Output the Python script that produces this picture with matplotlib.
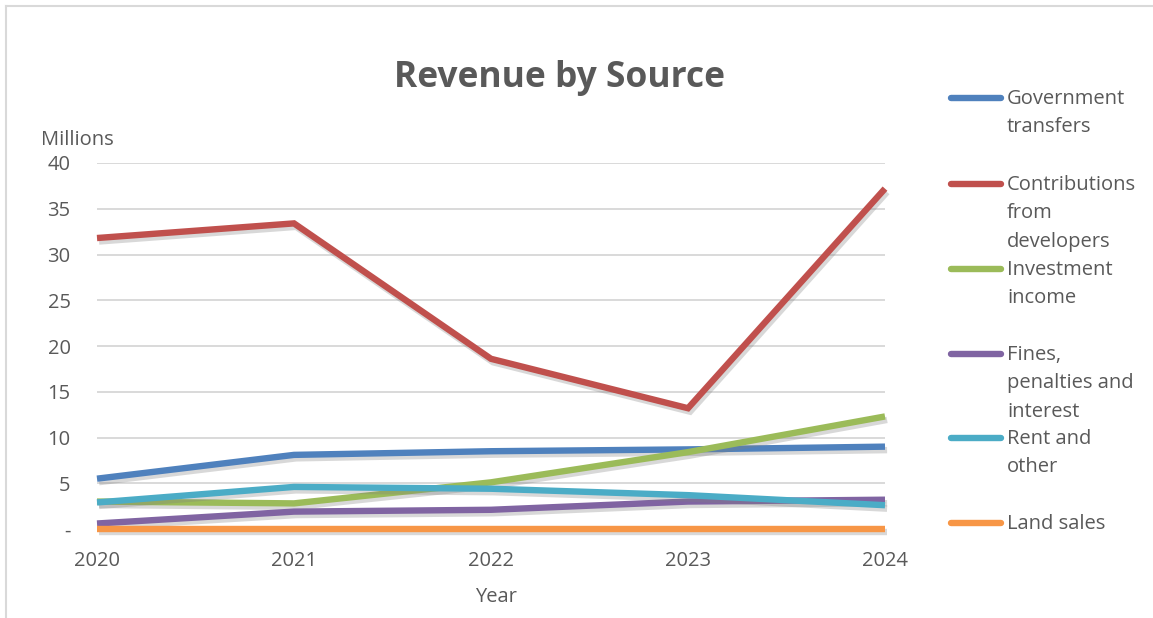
import matplotlib
matplotlib.use("Agg")
import matplotlib.pyplot as plt
import matplotlib.patheffects as pe
from matplotlib.lines import Line2D

# Revenue by source, in millions
years = [2020, 2021, 2022, 2023, 2024]
government_transfers = [5.5, 8.1, 8.5, 8.7, 9.0]
developer_contributions = [31.8, 33.4, 18.6, 13.2, 37.2]
investment_income = [3.0, 2.8, 5.1, 8.4, 12.3]
fines_penalties = [0.6, 1.9, 2.1, 3.0, 3.2]
rent_other = [2.9, 4.6, 4.4, 3.7, 2.6]
land_sales = [0.0, 0.0, 0.0, 0.0, 0.0]

labels = ["Government\ntransfers", "Contributions\nfrom\ndevelopers",
          "Investment\nincome", "Fines,\npenalties and\ninterest",
          "Rent and\nother", "Land sales"]
series = [government_transfers, developer_contributions, investment_income,
          fines_penalties, rent_other, land_sales]
colors = ["#4F81BD", "#C0504D", "#9BBB59", "#8064A2", "#4BACC6", "#F79646"]

TEXT = "#595959"
GRID = "#D9D9D9"
plt.rcParams["font.family"] = ["Open Sans", "DejaVu Sans"]

W, H = 1153, 618
fig = plt.figure(figsize=(W / 100, H / 100), dpi=100)
ax = fig.add_axes([97 / W, 1 - 529 / H, 788 / W, 366 / H])

shadow = [pe.SimpleLineShadow(offset=(1.5, -2.5), shadow_color="#7f7f7f", alpha=0.3),
          pe.Normal()]
for vals, col in zip(series, colors):
    ax.plot(years, vals, color=col, lw=4.6, solid_capstyle="butt",
            solid_joinstyle="miter", path_effects=shadow, zorder=3,
            clip_on=False)

ax.set_xlim(2020, 2024)
ax.set_ylim(0, 40)
ax.set_xticks(years)
ax.set_yticks(range(0, 45, 5))
ax.set_yticklabels(["-"] + [str(v) for v in range(5, 45, 5)])
ax.tick_params(length=0, labelsize=14.5, colors=TEXT)
ax.tick_params(axis="y", pad=19)
ax.tick_params(axis="x", pad=16)
ax.grid(axis="y", color=GRID, lw=1.4)
ax.set_axisbelow(True)
for s in ax.spines.values():
    s.set_visible(False)

fig.text(559 / W, 1 - 78 / H, "Revenue by Source", ha="center", va="center",
         fontsize=25.5, fontweight="bold", color=TEXT)
fig.text(41 / W, 1 - 140 / H, "Millions", ha="left", va="center",
         fontsize=14.5, color=TEXT)
fig.text(496 / W, 1 - 597 / H, "Year", ha="center", va="center",
         fontsize=14.5, color=TEXT)

# Legend on the right, one slot per series
legend_tops = [98, 184, 269, 354, 438, 523]
for lab, col, y in zip(labels, colors, legend_tops):
    fig.add_artist(Line2D([951 / W, 1001 / W], [1 - y / H, 1 - y / H],
                          color=col, lw=4.6, solid_capstyle="round"))
    fig.text(1007 / W, 1 - (y - 9) / H, lab, ha="left", va="top",
             fontsize=14.5, color=TEXT, linespacing=1.56)

# Chart frame
fig.add_artist(Line2D([6 / W, 6 / W], [0, 1 - 6 / H], color=GRID, lw=1.5))
fig.add_artist(Line2D([6 / W, 1], [1 - 6 / H, 1 - 6 / H], color=GRID, lw=1.5))

fig.savefig("out.png", dpi=100)
